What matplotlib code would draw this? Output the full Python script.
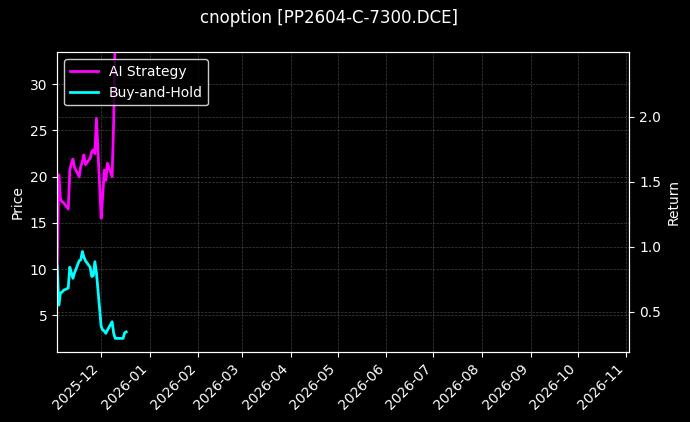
import matplotlib
matplotlib.use("Agg")
import matplotlib.pyplot as plt
import matplotlib.dates as mdates
import pandas as pd

dates = ["2025-11-03", "2025-11-04", "2025-11-05", "2025-11-06", "2025-11-07",
         "2025-11-10", "2025-11-11", "2025-11-12", "2025-11-13", "2025-11-14",
         "2025-11-17", "2025-11-18", "2025-11-19", "2025-11-20", "2025-11-21",
         "2025-11-24", "2025-11-25", "2025-11-26", "2025-11-27", "2025-11-28",
         "2025-12-01", "2025-12-02", "2025-12-03", "2025-12-04", "2025-12-05",
         "2025-12-08", "2025-12-09", "2025-12-10", "2025-12-11", "2025-12-12",
         "2025-12-15", "2025-12-16", "2025-12-17"]

ai_strategy = [10.3, 20.2, 17.6, 17.3, 17.2,
               16.5, 20.7, 21.4, 21.9, 21.0,
               20.0, 21.1, 21.6, 22.35, 21.3,
               22.0, 22.7, 22.9, 22.5, 26.3,
               15.5, 18.0, 20.7, 19.6, 21.45,
               20.0, 26.0, 36.0]

buy_and_hold = [10.3, 6.1, 7.4, 7.5, 7.7,
                7.95, 10.2, 9.6, 9.0, 9.6,
                10.9, 11.0, 11.9, 11.3, 10.9,
                10.2, 9.2, 9.3, 10.8, 9.6,
                3.8, 3.4, 3.3, 3.05, 3.4,
                4.3, 3.05, 2.5, 2.5, 2.5,
                2.5, 3.1, 3.2]

title = "cnoption [PP2604-C-7300.DCE]"
x_start, x_end = "2025-11-03", "2026-11-03"
price_lim = (1.06, 33.46)
return_lim = (0.192, 2.495)

d = pd.to_datetime(dates)

plt.style.use("dark_background")
fig = plt.figure(figsize=(6.9, 4.22), dpi=100)
fig.patch.set_facecolor("black")
ax = fig.add_axes([0.0830, 0.1666, 0.829, 0.7095])
ax.set_facecolor("black")
ax2 = ax.twinx()

ax.plot(d[:len(ai_strategy)], ai_strategy, color="#ff00ff", lw=2, label="AI Strategy")
ax.plot(d[:len(buy_and_hold)], buy_and_hold, color="#00ffff", lw=2, label="Buy-and-Hold")

ax.set_xlim(pd.Timestamp(x_start), pd.Timestamp(x_end))
ax.set_ylim(*price_lim)
ax2.set_ylim(*return_lim)

ax.xaxis.set_major_locator(mdates.MonthLocator())
ax.xaxis.set_major_formatter(mdates.DateFormatter("%Y-%m"))
for lbl in ax.get_xticklabels():
    lbl.set_rotation(45)
    lbl.set_ha("right")

ax.grid(True, color="gray", linestyle="--", linewidth=0.5, alpha=0.5)
ax2.grid(True, color="gray", linestyle="--", linewidth=0.5, alpha=0.5)

ax.set_ylabel("Price", color="white", fontsize=10)
ax2.set_ylabel("Return", color="white", fontsize=10)
for a in (ax, ax2):
    a.tick_params(colors="white", labelsize=10)
    for s in a.spines.values():
        s.set_color("white")

leg = ax.legend(loc="upper left", fontsize=10, facecolor="black", edgecolor="white", framealpha=0.8)
for t in leg.get_texts():
    t.set_color("white")

fig.text(0.477, 0.957, title, ha="center", va="center", fontsize=12, color="white")

fig.savefig("out.png", dpi=100, facecolor="black")
